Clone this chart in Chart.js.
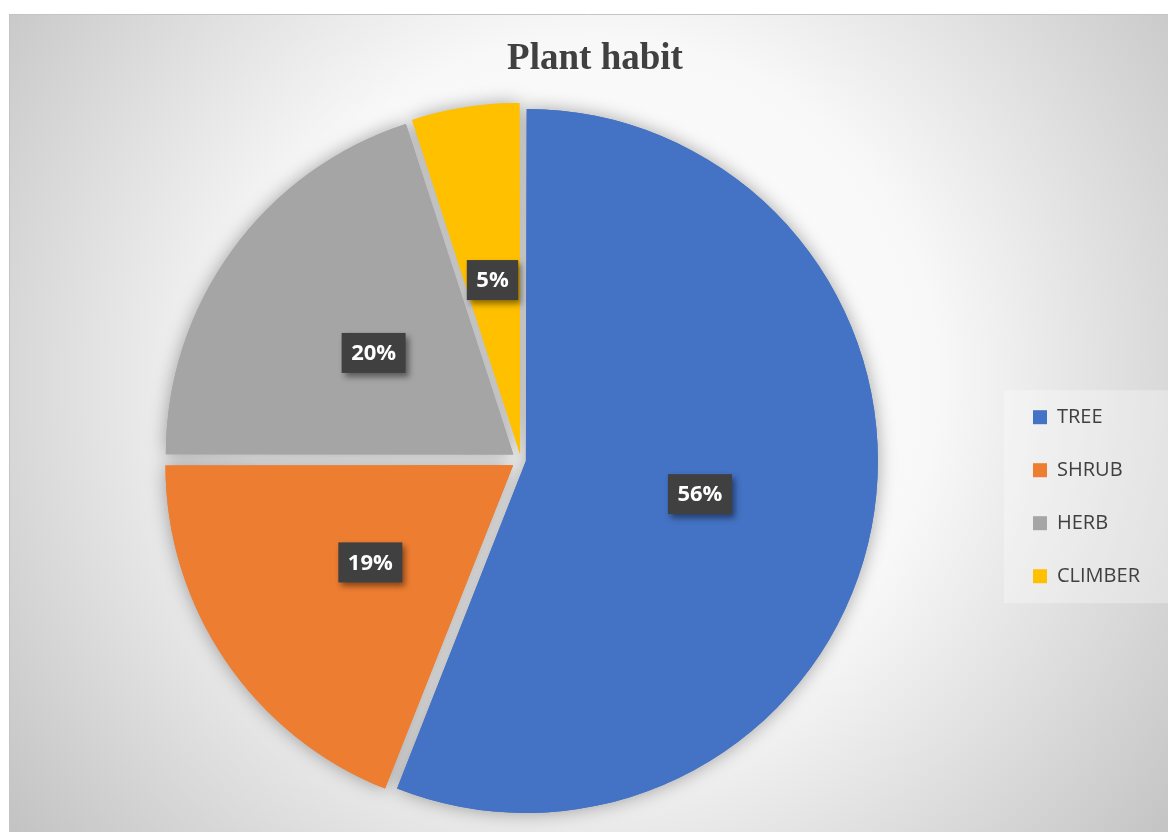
<!DOCTYPE html>
<html>
<head>
<meta charset="utf-8">
<title>Plant habit</title>
<script src="https://cdn.jsdelivr.net/npm/chart.js@4.4.1/dist/chart.umd.min.js"></script>
<style>
  html, body { margin: 0; padding: 0; background: #fff; }
  #wrap { width: 1168px; height: 832px; }
</style>
</head>
<body>
<div id="wrap"><canvas id="myChart" width="1168" height="832"></canvas></div>
<script>
// data
const categories = ['TREE', 'SHRUB', 'HERB', 'CLIMBER'];
const values = [56, 19, 20, 5];
const colors = ['#4472C4', '#ED7D31', '#A5A5A5', '#FFC000'];
// explode per slice (chart.js also grows big slices with offset, so these differ)
const explode = [20, 38, 38, 24];

const total = values.reduce((a, b) => a + b, 0);

// chart box background + legend panel
const backdrop = {
  id: 'backdrop',
  beforeDraw(chart) {
    const ctx = chart.ctx;
    const w = chart.width, h = chart.height;
    ctx.save();
    ctx.fillStyle = '#fff';
    ctx.fillRect(0, 0, w, h);
    const g = ctx.createRadialGradient(595, 380, 0, 595, 380, 760);
    g.addColorStop(0, '#ffffff');
    g.addColorStop(0.45, '#f8f8f8');
    g.addColorStop(1, '#c0c0c0');
    ctx.fillStyle = g;
    ctx.fillRect(9, 14, w - 9, h - 14);
    ctx.strokeStyle = '#c4c4c4';
    ctx.lineWidth = 1;
    ctx.beginPath();
    ctx.moveTo(9.5, h);
    ctx.lineTo(9.5, 14.5);
    ctx.lineTo(w, 14.5);
    ctx.stroke();
    // legend panel
    const lg = chart.legend;
    const boxes = lg.legendHitBoxes;
    if (boxes && boxes.length) {
      const top = boxes[0].top - 17;
      const last = boxes[boxes.length - 1];
      const bottom = last.top + last.height + 17;
      ctx.fillStyle = 'rgba(255,255,255,0.3)';
      ctx.fillRect(lg.left + 4, top, w - lg.left - 4, bottom - top);
    }
    ctx.restore();
  }
};

// soft shadow under the slices
const sliceShadow = {
  id: 'sliceShadow',
  beforeDatasetsDraw(chart) {
    const ctx = chart.ctx;
    ctx.save();
    ctx.shadowColor = 'rgba(0,0,0,0.35)';
    ctx.shadowBlur = 18;
    chart.getDatasetMeta(0).data.forEach(arc => arc.draw(ctx));
    ctx.restore();
  }
};

// dark percentage boxes
const pctLabels = {
  id: 'pctLabels',
  afterDatasetsDraw(chart) {
    const ctx = chart.ctx;
    const meta = chart.getDatasetMeta(0);
    ctx.save();
    ctx.font = 'bold 22px "Open Sans"';
    ctx.textAlign = 'center';
    ctx.textBaseline = 'middle';
    meta.data.forEach((arc, i) => {
      const p = arc.getProps(['x', 'y', 'startAngle', 'endAngle', 'outerRadius'], true);
      const mid = (p.startAngle + p.endAngle) / 2;
      const r = p.outerRadius * 0.525;
      const cx = p.x + Math.cos(mid) * r;
      const cy = p.y + Math.sin(mid) * r;
      const txt = Math.round(values[i] / total * 100) + '%';
      const bw = ctx.measureText(txt).width + 19;
      const bh = 40;
      ctx.save();
      ctx.shadowColor = 'rgba(0,0,0,0.45)';
      ctx.shadowBlur = 6;
      ctx.shadowOffsetX = 3;
      ctx.shadowOffsetY = 4;
      ctx.fillStyle = '#404040';
      ctx.fillRect(cx - bw / 2, cy - bh / 2, bw, bh);
      ctx.restore();
      ctx.fillStyle = '#fff';
      ctx.fillText(txt, cx, cy + 1);
    });
    ctx.restore();
  }
};

const ctx = document.getElementById('myChart').getContext('2d');
const myChart = new Chart(ctx, {
  type: 'pie',
  data: {
    labels: categories,
    datasets: [{
      data: values,
      backgroundColor: colors,
      borderWidth: 0,
      offset: explode,
      hoverOffset: 0
    }]
  },
  options: {
    responsive: false,
    animation: false,
    events: [],
    radius: 347,
    layout: {
      padding: { left: 42, right: 20, top: 14, bottom: 0 }
    },
    plugins: {
      title: {
        display: true,
        text: 'Plant habit',
        color: '#404040',
        font: { family: '"Liberation Serif", "Times New Roman", serif', size: 37, weight: 'bold' },
        padding: { top: 23, bottom: 6.6 }
      },
      legend: {
        position: 'right',
        align: 'start',
        maxWidth: 148,
        // blank title only pushes the items down
        title: { display: true, text: ' ', font: { size: 1 }, padding: { top: 359, bottom: 0 } },
        labels: {
          boxWidth: 14,
          boxHeight: 14,
          padding: 33,
          color: '#404040',
          font: { family: '"Open Sans"', size: 20 }
        }
      },
      tooltip: { enabled: false }
    }
  },
  plugins: [backdrop, sliceShadow, pctLabels]
});
</script>
</body>
</html>
